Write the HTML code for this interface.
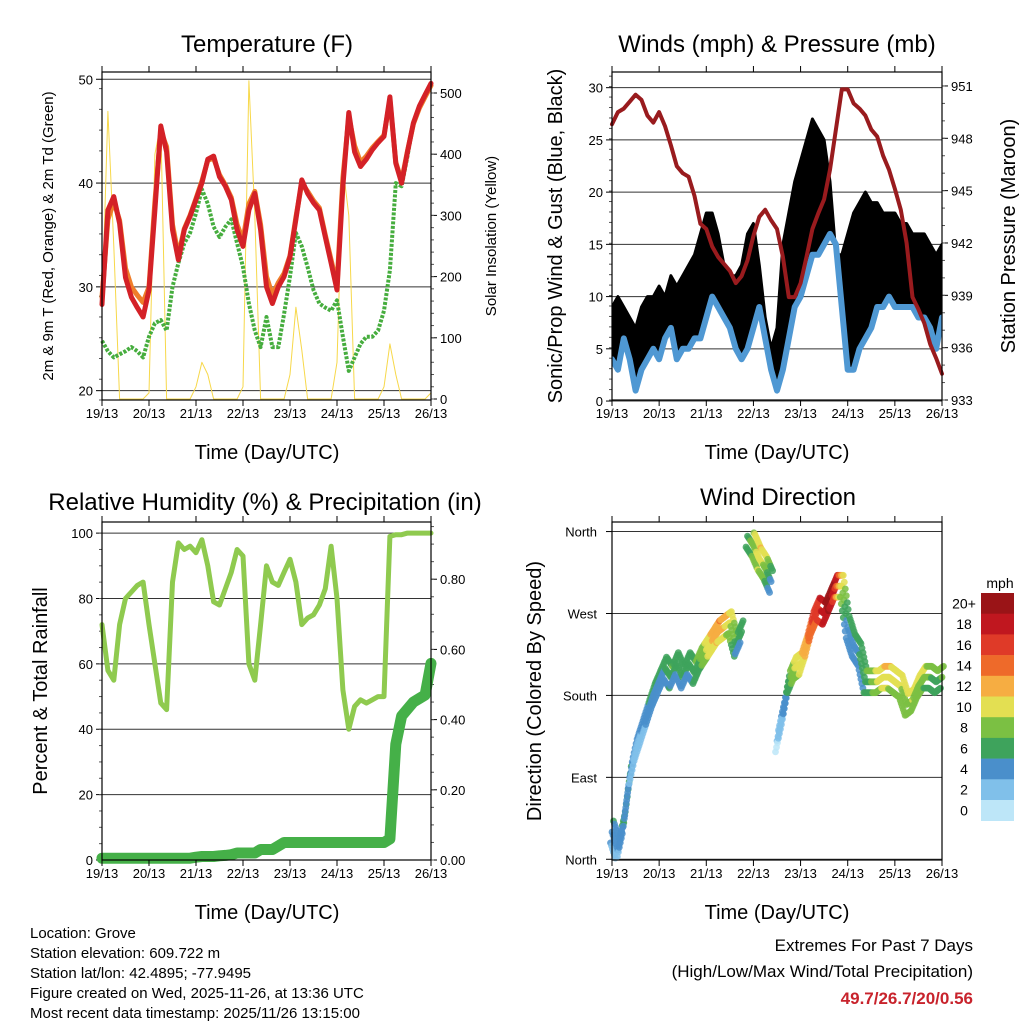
<!DOCTYPE html>
<html><head><meta charset="utf-8"><style>
html,body{margin:0;padding:0;background:#fff;}
svg{display:block;font-family:"Liberation Sans",sans-serif;}
</style></head><body>
<svg id="s" width="1024" height="1024" viewBox="0 0 1024 1024">
<defs>
<clipPath id="cw"><rect x="612" y="72" width="330" height="328"/></clipPath>
<clipPath id="ct"><rect x="102" y="72" width="329" height="328"/></clipPath>
</defs>
<rect x="0" y="0" width="1024" height="1024" fill="#fff"/>
<text x="267" y="52" font-size="24" text-anchor="middle">Temperature (F)</text>
<text x="777" y="52" font-size="24" text-anchor="middle">Winds (mph) &amp; Pressure (mb)</text>
<text x="265" y="510" font-size="24" text-anchor="middle">Relative Humidity (%) &amp; Precipitation (in)</text>
<text x="778" y="505" font-size="24" text-anchor="middle">Wind Direction</text>
<text transform="translate(53,236) rotate(-90)" font-size="15" text-anchor="middle">2m &amp; 9m T (Red, Orange) &amp; 2m Td (Green)</text>
<text transform="translate(496,236) rotate(-90)" font-size="15" text-anchor="middle">Solar Insolation (Yellow)</text>
<text transform="translate(562,236) rotate(-90)" font-size="20" text-anchor="middle">Sonic/Prop Wind &amp; Gust (Blue, Black)</text>
<text transform="translate(1015,236) rotate(-90)" font-size="20" text-anchor="middle">Station Pressure (Maroon)</text>
<text transform="translate(47,691) rotate(-90)" font-size="20" text-anchor="middle">Percent &amp; Total Rainfall</text>
<text transform="translate(541,691) rotate(-90)" font-size="20" text-anchor="middle">Direction (Colored By Speed)</text>
<text x="267" y="459" font-size="20" text-anchor="middle">Time (Day/UTC)</text>
<text x="777" y="459" font-size="20" text-anchor="middle">Time (Day/UTC)</text>
<text x="267" y="919" font-size="20" text-anchor="middle">Time (Day/UTC)</text>
<text x="777" y="919" font-size="20" text-anchor="middle">Time (Day/UTC)</text>
<g font-size="15">
<text x="30" y="938">Location: Grove</text>
<text x="30" y="958">Station elevation: 609.722 m</text>
<text x="30" y="978">Station lat/lon: 42.4895; -77.9495</text>
<text x="30" y="998">Figure created on Wed, 2025-11-26, at 13:36 UTC</text>
<text x="30" y="1018">Most recent data timestamp: 2025/11/26 13:15:00</text>
</g>
<g font-size="17" text-anchor="end">
<text x="973" y="951">Extremes For Past 7 Days</text>
<text x="973" y="977">(High/Low/Max Wind/Total Precipitation)</text>
<text x="973" y="1004" fill="#c8232c" font-weight="bold">49.7/26.7/20/0.56</text>
</g>
<text x="1000" y="588" font-size="14" text-anchor="middle">mph</text>
</svg>
<script>
// ---- data (3-hourly samples from 19/13 to 26/13 UTC) ----
const dayLabels = ["19/13","20/13","21/13","22/13","23/13","24/13","25/13","26/13"];
const tempRed = [28.3,37.4,38.7,36.1,30.9,29,28,27.1,29.7,37.4,45.5,43,35.5,32.6,35.5,36.8,38.4,40,42.3,42.6,40.6,39.7,38.4,35.5,33.9,37.4,39,35.5,30,28.4,30,31,32.9,36.5,40.3,39,38.1,37.4,34.8,32.3,29.7,39.7,46.8,43,41.6,42.3,43.2,43.9,44.5,48.3,41.9,40,43,45.8,47.4,48.5,49.6];
const tempOrange = [29,36.5,38.2,36.4,31.8,30,29.2,28.5,30,38.2,45,43.5,36,33,35.6,36.9,38.5,40.2,42.2,42.4,40.8,39.8,38.6,36,34.5,38,39.2,36,31,29.2,30.4,31.3,33,36.7,40,39.2,38.3,37.6,35,32.6,30.2,40.5,46.4,43.6,42,42.6,43.4,44,44.6,48,42,40.2,43.1,45.7,47.2,48.3,49.4];
const dewpoint = [24.8,23.8,23.2,23.5,23.8,24.2,23.8,23.2,25.2,26.5,26.8,25.8,30,32.3,34.2,35.2,37.1,39.4,38,35.8,34.8,35.8,36.5,34.2,31.9,28.4,25.8,24.2,27.1,24.2,24.2,27.4,31,35.2,33.9,31.9,29.7,28.4,28,27.7,28.7,25.2,21.9,23.2,24.5,25.2,25.2,25.8,27.7,31.6,40,39.7,42.6,45.8,47.4,48.4,49.6];
const solar = [150,470,250,0,0,0,0,0,10,400,450,0,0,0,0,0,20,60,40,0,0,0,0,0,20,520,300,0,0,0,0,0,40,150,80,0,0,0,0,0,60,380,300,0,0,0,0,0,20,90,40,0,0,0,0,0,10];
const windSonic = [4,3,6,4,1,3,4,5,4,6,7,4,5,5,6,6,8,10,9,8,7,5,4,5,7,9,6,3,1,3,6,9,10,12,14,14,15,16,15,9,3,3,5,6,7,9,9,10,9,9,9,9,8,8,7,5,8];
const gustHigh = [9,10,9,8,7,9,10,10,11,10,12,11,12,13,14,16,18,18,16,13,12,12,13,16,17,13,8,5,7,15,18,21,23,25,27,26,25,21,14,14,16,18,19,20,19,19,18,18,18,17,17,16,16,16,15,14,15];
const pressure = [948.8,949.5,949.7,950.1,950.5,950.2,949.3,948.9,949.5,948.7,947.6,946.4,946,945.8,944.7,943.1,942.8,941.8,941.2,940.8,940.4,939.7,940.1,941,942.4,943.5,943.9,943.3,942.8,941.2,938.9,938.9,939.7,941.2,942.8,943.7,944.5,946.2,948.5,950.8,950.8,950,949.7,949.3,948.5,948.1,947,946.2,945.1,943.9,942,938.9,938.2,937.4,936.2,935.4,934.5];
const humidity = [72,58,55,72,80,82,84,85,72,60,48,46,85,97,95,96,94,98,90,79,78,83,88,95,93,60,55,72,90,85,84,88,92,85,72,74,75,78,83,96,80,52,40,47,49,48,49,50,50,99,99.5,99.5,100,100,100,100,100];
const precip = [0.005,0.005,0.005,0.005,0.005,0.005,0.005,0.005,0.005,0.005,0.005,0.005,0.005,0.005,0.005,0.005,0.008,0.01,0.01,0.01,0.012,0.013,0.015,0.02,0.02,0.02,0.02,0.03,0.03,0.03,0.04,0.05,0.05,0.05,0.05,0.05,0.05,0.05,0.05,0.05,0.05,0.05,0.05,0.05,0.05,0.05,0.05,0.05,0.05,0.06,0.33,0.41,0.43,0.45,0.46,0.47,0.56];
const windDir = [30,10,40,90,120,140,160,180,195,210,200,215,200,215,205,220,230,240,250,255,260,235,250,355,345,330,320,305,130,160,195,210,215,235,260,275,270,285,300,300,255,235,225,195,195,195,200,200,195,190,170,175,190,200,200,195,200];
const dirSpeed = [4,3,5,4,2,3,4,4,4,5,6,5,5,5,6,7,9,11,12,11,9,6,5,6,8,10,8,4,1,3,6,9,10,12,15,16,18,20,16,9,4,4,5,6,7,9,10,10,9,9,8,9,8,8,7,6,7];
const speedLevels = ["0","2","4","6","8","10","12","14","16","18","20+"];
const speedColors = ["#bde6f8","#80c0ea","#4a8fcb","#3ea35c","#7bc043","#e3df52","#f6ad42","#ee6a2a","#df3a28","#c0171f","#9a1417"];

const NS="http://www.w3.org/2000/svg";
const svg=document.getElementById('s');
function mk(tag,attrs,parent){const e=document.createElementNS(NS,tag);for(const k in attrs)e.setAttribute(k,attrs[k]);(parent||svg).appendChild(e);return e;}

function panel(L,T,R,B){
  return {L,T,R,B,x:i=>L+(R-L)*i/56,
    y:(v,lo,hi)=>B-(B-T)*(v-lo)/(hi-lo)};
}
function frame(p,name){
  const g=mk('g',{});
  
  
  for(let d=0;d<8;d++){
    const xx=p.L+(p.R-p.L)*d/7;
    mk('line',{x1:xx,x2:xx,y1:p.B,y2:p.B+6,stroke:'#000','stroke-width':1},g);
    mk('line',{x1:xx,x2:xx,y1:p.T,y2:p.T-6,stroke:'#000','stroke-width':1},g);
    const t=mk('text',{x:xx,y:p.B+18,'font-size':13,'text-anchor':'middle'},g);
    t.textContent=dayLabels[d];
    
    
  }
  return g;
}
function box(p,name){
  const r=mk('rect',{x:p.L,y:p.T,width:p.R-p.L,height:p.B-p.T,fill:'none',stroke:'#000','stroke-width':1.2});
  
  
}
function yAxis(p,vals,lo,hi,labels,side,grid,minorStep){
  const g=mk('g',{});
  
  
  vals.forEach((v,k)=>{
    const yy=p.y(v,lo,hi);
    if(grid) mk('line',{x1:p.L,x2:p.R,y1:yy,y2:yy,stroke:'#333','stroke-width':1},g);
    const xe=side==='left'?p.L:p.R;
    mk('line',{x1:xe,x2:side==='left'?xe-6:xe+6,y1:yy,y2:yy,stroke:'#000'},g);
    const t=mk('text',{x:side==='left'?xe-9:xe+9,y:yy+5,'font-size':13,'text-anchor':side==='left'?'end':'start'},g);
    t.textContent=labels[k];
    
    
  });
  if(minorStep){
    for(let v=lo;v<=hi+1e-9;v+=minorStep){
      const yy=p.y(v,lo,hi);const xe=side==='left'?p.L:p.R;
      if(yy>=p.T&&yy<=p.B) mk('line',{x1:xe,x2:side==='left'?xe-3:xe+3,y1:yy,y2:yy,stroke:'#555'},g);
    }
  }
}
function line(p,arr,lo,hi,attrs,name){
  const pts=arr.map((v,i)=>p.x(i).toFixed(1)+','+p.y(v,lo,hi).toFixed(1)).join(' ');
  const e=mk('polyline',Object.assign({points:pts,fill:'none','stroke-linejoin':'round','stroke-linecap':'round'},attrs));
  
  
  return e;
}

// ---- Temperature panel ----
const pT=panel(102,72,431,400);
const tLo=19.1, tHi=50.7;
yAxis(pT,[20,30,40,50],tLo,tHi,["20","30","40","50"],'left',true,2);
const pS={L:102,R:431,T:93,B:399,x:pT.x,y:(v,lo,hi)=>399-(399-93)*(v-lo)/(hi-lo)};
yAxis(pS,[0,100,200,300,400,500],0,500,["0","100","200","300","400","500"],'right',false,20);
line(pS,solar,0,500,{stroke:'#f7d84a','stroke-width':1,'clip-path':'url(#ct)'},'solar-insolation-line');
line(pT,dewpoint,tLo,tHi,{stroke:'#46ad3e','stroke-width':4,'stroke-dasharray':'3,1.5','stroke-linecap':'butt'},'dewpoint-line');
line(pT,tempOrange,tLo,tHi,{stroke:'#ef7d2a','stroke-width':5},'temp-9m-line');
line(pT,tempRed,tLo,tHi,{stroke:'#d42127','stroke-width':5},'temp-2m-line');
box(pT,'temperature');frame(pT,'temperature');

// ---- Winds panel ----
const pW=panel(612,72,942,400);
const wLo=0.1,wHi=31.5;
yAxis(pW,[0,5,10,15,20,25,30],wLo,wHi,["0","5","10","15","20","25","30"],'left',true,1);
const pLo=933,pHi=951.8;
yAxis(pW,[933,936,939,942,945,948,951],pLo,pHi,["933","936","939","942","945","948","951"],'right',false,1);
(function(){
  const up=gustHigh.map((v,i)=>pW.x(i).toFixed(1)+','+pW.y(v,wLo,wHi).toFixed(1));
  const dn=windSonic.map((v,i)=>pW.x(i).toFixed(1)+','+pW.y(v,wLo,wHi).toFixed(1)).reverse();
  const e=mk('polygon',{points:up.concat(dn).join(' '),fill:'#000',stroke:'#000','stroke-width':3,'stroke-linejoin':'round','clip-path':'url(#cw)'});
  
  
})();
line(pW,windSonic,wLo,wHi,{stroke:'#4f98d3','stroke-width':6,'clip-path':'url(#cw)'},'sonic-wind-line');
line(pW,pressure,pLo,pHi,{stroke:'#991b1e','stroke-width':4},'pressure-line');
box(pW,'winds');frame(pW,'winds');

// ---- Humidity panel ----
const pH=panel(102,522,431,860);
const hLo=0,hHi=103.4;
yAxis(pH,[0,20,40,60,80,100],hLo,hHi,["0","20","40","60","80","100"],'left',true,5);
const rLo=0,rHi=0.963;
yAxis(pH,[0,0.2,0.4,0.6,0.8],rLo,rHi,["0.00","0.20","0.40","0.60","0.80"],'right',false,0.05);
line(pH,humidity,hLo,hHi,{stroke:'#8fca4f','stroke-width':5},'humidity-line');
line(pH,precip,rLo,rHi,{stroke:'#45b048','stroke-width':11},'precipitation-line');
box(pH,'humidity');frame(pH,'humidity');

// ---- Wind direction panel ----
const pD=panel(612,522,942,860);
const dLo=-0.8,dHi=370.5;
const dg=mk('g',{});


[[0,"North"],[90,"East"],[180,"South"],[270,"West"],[360,"North"]].forEach(([v,l])=>{
  const yy=pD.y(v,dLo,dHi);
  mk('line',{x1:pD.L,x2:pD.R,y1:yy,y2:yy,stroke:'#333'},dg);
  mk('line',{x1:pD.L,x2:pD.L-6,y1:yy,y2:yy,stroke:'#000'},dg);
  const t=mk('text',{x:pD.L-15,y:yy+5,'font-size':13,'text-anchor':'end'},dg);
  t.textContent=l;
});
function colorFor(s){let k=Math.round(s/2);if(k<0)k=0;if(k>10)k=10;return speedColors[k];}
const dots=mk('g',{});


const spread=[-12,0,12];
for(let i=0;i<windDir.length;i++){
  const cont=(i<windDir.length-1 && Math.abs(windDir[i+1]-windDir[i])<70);
  const steps=cont?6:1;
  for(let k=0;k<steps;k++){
    const f=cont?k/6:0;
    const d=cont?windDir[i]+(windDir[i+1]-windDir[i])*f:windDir[i];
    const s=cont?dirSpeed[i]+(dirSpeed[i+1]-dirSpeed[i])*f:dirSpeed[i];
    spread.forEach((o,j)=>{
      let dd=d+o; if(dd>360||dd<0) return;
      const c=mk('circle',{cx:(pD.x(i+f)+(j-1)*1.5).toFixed(1),cy:pD.y(dd,dLo,dHi).toFixed(1),r:3.4,fill:colorFor(s+(j-1)),'fill-opacity':0.85},dots);
      
      
    });
  }
}
box(pD,'direction');frame(pD,'direction');

// ---- Colorbar ----
const cb=mk('g',{});


const cbTop=593,cbH=20.7;
for(let k=0;k<speedLevels.length;k++){
  const idx=speedLevels.length-1-k;
  const r=mk('rect',{x:981,y:cbTop+k*cbH,width:33,height:cbH+0.3,fill:speedColors[idx]},cb);
  
  
  const t=mk('text',{x:964,y:cbTop+k*cbH+cbH/2+5,'font-size':14,'text-anchor':'middle'},cb);
  t.textContent=speedLevels[idx];
  
  
}
</script>
</body></html>
